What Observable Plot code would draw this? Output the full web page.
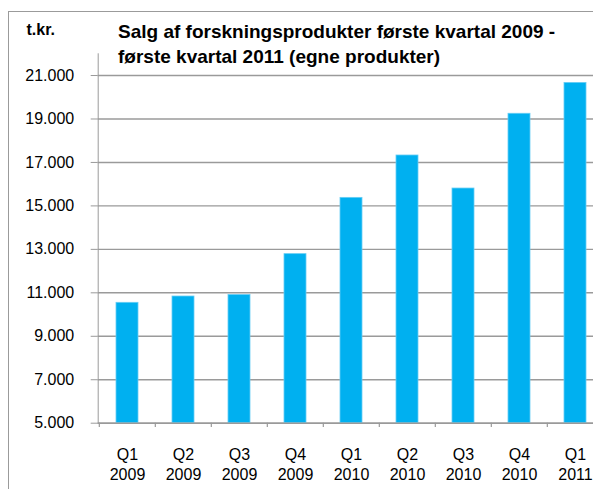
<!DOCTYPE html>
<html><head><meta charset="utf-8">
<script src="https://cdn.jsdelivr.net/npm/d3@7"></script>
<script src="https://cdn.jsdelivr.net/npm/@observablehq/plot@0.6"></script>
<style>
html,body{margin:0;padding:0;background:#fff;overflow:hidden;width:593px;height:489px}
#wrap{position:relative;width:593px;height:489px;overflow:hidden;font-family:"Liberation Sans",Arial,sans-serif;background:#fff}
#chart{position:absolute;left:0;top:0}
#frame{position:absolute;left:8px;top:11px;width:800px;height:800px;border:1.5px solid #9b9b9b;pointer-events:none}
#title{position:absolute;left:118px;top:19px;font-size:19px;font-weight:bold;line-height:25px;white-space:pre;color:#000}
#unit{position:absolute;left:26.5px;top:19.5px;font-size:16px;font-weight:bold;line-height:20px;color:#000}
#chart svg text{fill:#000;font-family:"Liberation Sans",Arial,sans-serif}
</style></head>
<body>
<div id="wrap">
<div id="chart"></div>
<div id="frame"></div>
<div id="unit">t.kr.</div>
<div id="title">Salg af forskningsprodukter første kvartal 2009 -
første kvartal 2011 (egne produkter)</div>
</div>
<script>
const quarters = ["Q1","Q2","Q3","Q4","Q1","Q2","Q3","Q4","Q1"];
const years = ["2009","2009","2009","2009","2010","2010","2010","2010","2011"];
const sales = [10540, 10830, 10900, 12780, 15370, 17320, 15800, 19240, 20660];
const yTicks = [5000, 7000, 9000, 11000, 13000, 15000, 17000, 19000, 21000];
const yMax = 22000;

const data = quarters.map((q, i) => ({period: q + "\n" + years[i], sales: sales[i]}));
const periods = data.map(d => d.period);
const fmt = d => d3.format(",")(d).replace(/,/g, ".");

const W = 593, H = 489, mL = 97.7, mR = -12;
const step = (W - mR - mL) / periods.length;
const grey = "#9a9a9a";
const font = "'Liberation Sans', Arial, sans-serif";

const chart = Plot.plot({
  width: W, height: H,
  marginLeft: mL, marginRight: mR, marginTop: 53.3, marginBottom: 66.3,
  style: {fontFamily: font, fontSize: "16px", color: grey, background: "transparent", overflow: "visible"},
  x: {domain: periods, paddingInner: 0.6, paddingOuter: 0.3, axis: null},
  y: {domain: [yTicks[0], yMax], ticks: yTicks, tickFormat: fmt, tickSize: 7, tickPadding: 17, line: true, label: null},
  marks: [
    Plot.ruleY(yTicks, {stroke: grey, strokeWidth: 1.4}),
    Plot.barY(data, {x: "period", y1: yTicks[0], y2: "sales", fill: "#00B0F0", stroke: "#66cdf4", strokeWidth: 0.8}),
    Plot.ruleY([yTicks[0]], {stroke: grey, strokeWidth: 1.4}),
    Plot.ruleX(periods, {x: d => d, y1: yTicks[0], y2: yTicks[0] - 200, dx: -step / 2, stroke: grey, strokeWidth: 1.2}),
    Plot.text(periods, {x: d => d, text: d => d, frameAnchor: "bottom", lineAnchor: "top", dy: 23, lineHeight: 1.25, fill: "#000", fontSize: 16, fontFamily: font})
  ]
});
document.getElementById("chart").appendChild(chart);
</script>
</body></html>
